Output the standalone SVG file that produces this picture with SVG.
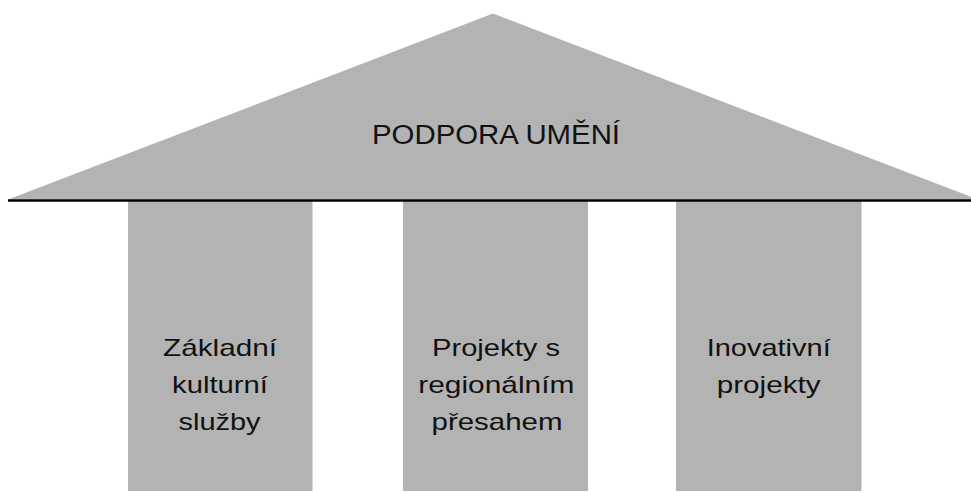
<svg xmlns="http://www.w3.org/2000/svg" width="971" height="492" viewBox="0 0 971 492">
<style>
.shape{fill:#b3b3b3;}
.lbl{font-family:"Liberation Sans",Arial,sans-serif;font-size:24px;fill:#111;text-anchor:middle;}
.title{font-family:"Liberation Sans",Arial,sans-serif;font-size:27px;fill:#111;text-anchor:middle;}
</style>
<rect width="971" height="492" fill="#ffffff"/>
<g id="roof">
<polygon class="shape" points="8,199.5 493,13.5 978,199.5"/>
<text class="title" x="496" y="144" textLength="248" lengthAdjust="spacingAndGlyphs">PODPORA UMĚNÍ</text>
</g>
<g id="pillar1">
<rect class="shape" x="128" y="201" width="184.5" height="290"/>
<text class="lbl" x="220" y="356" textLength="114" lengthAdjust="spacingAndGlyphs">Základní</text>
<text class="lbl" x="220" y="392.5" textLength="96" lengthAdjust="spacingAndGlyphs">kulturní</text>
<text class="lbl" x="219.5" y="429.5" textLength="82" lengthAdjust="spacingAndGlyphs">služby</text>
</g>
<g id="pillar2">
<rect class="shape" x="403" y="201" width="185" height="290"/>
<text class="lbl" x="496" y="356" textLength="128" lengthAdjust="spacingAndGlyphs">Projekty s</text>
<text class="lbl" x="496.3" y="392.5" textLength="156" lengthAdjust="spacingAndGlyphs">regionálním</text>
<text class="lbl" x="497" y="429.5" textLength="131" lengthAdjust="spacingAndGlyphs">přesahem</text>
</g>
<g id="pillar3">
<rect class="shape" x="676" y="201" width="185.5" height="290"/>
<text class="lbl" x="768.7" y="356" textLength="124" lengthAdjust="spacingAndGlyphs">Inovativní</text>
<text class="lbl" x="768.7" y="392.5" textLength="104" lengthAdjust="spacingAndGlyphs">projekty</text>
</g>
<g id="connectors">
<line x1="8" y1="200.5" x2="971" y2="200.5" stroke="#000" stroke-width="2.5"/>
</g>
</svg>
